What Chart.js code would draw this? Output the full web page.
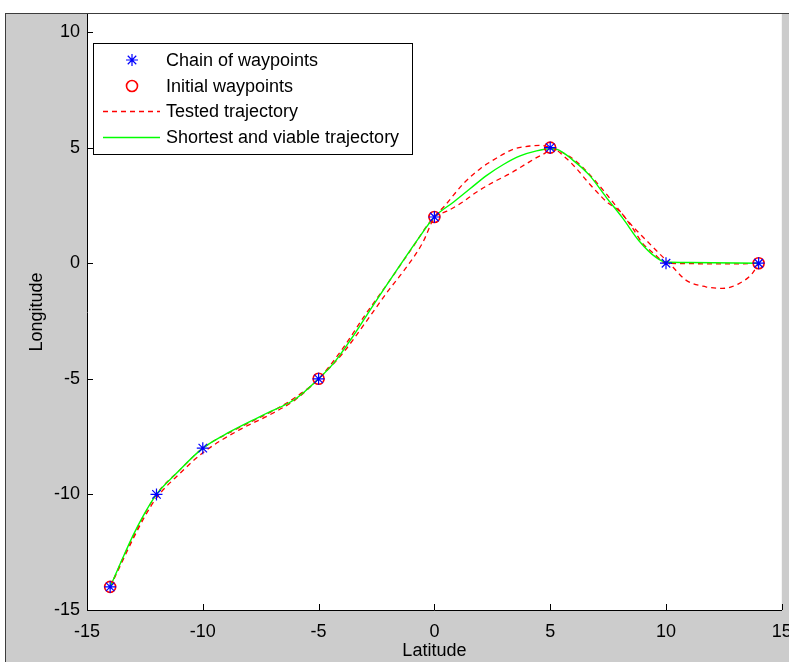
<!DOCTYPE html>
<html>
<head>
<meta charset="utf-8">
<script src="https://cdn.jsdelivr.net/npm/chart.js@4.4.1/dist/chart.umd.min.js"></script>
<style>
  body { margin: 0; background: #ffffff; width: 789px; height: 662px; overflow: hidden; }
  #frame { position: absolute; left: 5px; top: 13px; width: 784px; height: 649px; background: #cccccc;
           border-left: 1px solid #3c3c3c; border-top: 1px solid #3c3c3c; box-sizing: border-box; }
  #chart { position: absolute; left: 0; top: 0; }
</style>
</head>
<body>
<div id="frame"></div>
<canvas id="chart" width="789" height="662"></canvas>
<script>
// DATA
const chainX = [-14, -12, -10, -5, 0, 5, 10, 14]
const chainY = [-14, -10, -8, -5, 2, 5, 0, 0]

const initialX = [-14, -5, 0, 5, 14]
const initialY = [-14, -5, 2, 5, 0]

// tested trajectory through the initial waypoints
const testedAX = [-14, -13.5, -13, -12.5, -12, -11, -10, -8.5, -7, -6, -5, -4, -3, -2, -1.3, -0.5, 0, 0.4, 1.26, 1.98, 2.69, 3.41, 4.13, 4.6, 5, 5.5, 6, 6.5, 7, 7.42, 7.7, 8.42, 9.14, 9.71, 10.14, 10.86, 11.72, 12.43, 13.15, 13.72, 14]
const testedAY = [-14, -12.95, -11.9, -10.95, -10.15, -9.1, -8.2, -7.25, -6.5, -5.9, -5, -3.95, -2.6, -1.2, -0.3, 0.9, 2, 2.43, 3.45, 4.09, 4.55, 4.93, 5.07, 5.1, 5, 4.8, 4.5, 4.05, 3.5, 3.0, 2.65, 1.75, 1.0, 0.42, 0, -0.73, -1.02, -1.09, -0.88, -0.45, 0]

// tested trajectory through the chain of waypoints
const testedBX = [-14, -13, -12, -11, -10, -8.5, -7, -6, -5, -4, -3, -2, -1, 0, 0.54, 1.12, 1.83, 2.55, 3.27, 3.98, 4.41, 4.84, 5, 5.7, 6.13, 6.56, 7, 7.5, 8, 8.5, 9, 9.5, 10, 11, 12, 13, 14]
const testedBY = [-14, -11.8, -10, -8.95, -8, -7.15, -6.4, -5.8, -5, -3.75, -2.25, -0.85, 0.6, 2, 2.25, 2.58, 3.08, 3.51, 3.88, 4.31, 4.57, 4.81, 5, 4.53, 4.1, 3.59, 3.1, 2.6, 2.25, 1.6, 0.85, 0.4, 0, -0.02, -0.03, -0.03, 0]

const shortestX = [-14, -13.5, -13, -12.5, -12, -11.15, -10, -8.84, -7.4, -5.97, -5, -4.33, -3.61, -2.89, -2.18, -1.46, -0.74, 0, 0.83, 1.55, 2.26, 2.98, 3.7, 4.41, 5, 5.27, 5.99, 6.7, 7.42, 8.13, 8.85, 9.57, 10, 11, 14]
const shortestY = [-14, -12.85, -11.75, -10.8, -10, -9.1, -8, -7.3, -6.57, -5.85, -5, -4.3, -3.3, -2.2, -1.12, -0.05, 1.0, 2, 2.65, 3.23, 3.8, 4.27, 4.64, 4.86, 4.95, 4.93, 4.45, 3.8, 2.85, 1.95, 0.95, 0.25, 0.05, 0.03, 0]

const xTicks = [-15, -10, -5, 0, 5, 10, 15]
const yTicks = [-15, -10, -5, 0, 5, 10]

const legendLabels = ['Chain of waypoints', 'Initial waypoints', 'Tested trajectory', 'Shortest and viable trajectory']

function toPoints (xs, ys) {
    return xs.map((x, i) => ({x: x, y: ys[i]}))
}

const FONT = "'Liberation Sans', Arial, sans-serif"

// PLUGINS

// white plot box + inner tick marks like matlab
const plotBox = {
    id: 'plotBox',
    beforeDraw (chart) {
        const {ctx, chartArea} = chart
        ctx.save()
        ctx.fillStyle = '#ffffff'
        ctx.fillRect(chartArea.left, chartArea.top, chartArea.right - chartArea.left, chartArea.bottom - chartArea.top)
        ctx.restore()
    },
    afterDraw (chart) {
        const {ctx, chartArea, scales} = chart
        ctx.save()
        ctx.strokeStyle = '#000000'
        ctx.lineWidth = 1
        ctx.beginPath()
        scales.x.ticks.forEach(t => {
            const px = Math.round(scales.x.getPixelForValue(t.value)) + 0.5
            ctx.moveTo(px, chartArea.bottom)
            ctx.lineTo(px, chartArea.bottom - 6)
        })
        scales.y.ticks.forEach(t => {
            const py = Math.round(scales.y.getPixelForValue(t.value)) + 0.5
            ctx.moveTo(chartArea.left, py)
            ctx.lineTo(chartArea.left + 6, py)
        })
        ctx.stroke()
        ctx.restore()
    }
}

function drawStar (ctx, x, y, r) {
    const d = r * Math.SQRT1_2
    ctx.beginPath()
    ctx.moveTo(x - r, y); ctx.lineTo(x + r, y)
    ctx.moveTo(x, y - r); ctx.lineTo(x, y + r)
    ctx.moveTo(x - d, y - d); ctx.lineTo(x + d, y + d)
    ctx.moveTo(x - d, y + d); ctx.lineTo(x + d, y - d)
    ctx.stroke()
}

// legend box in the upper left corner
const boxLegend = {
    id: 'boxLegend',
    afterDraw (chart) {
        const ctx = chart.ctx
        const left = 93, top = 43, w = 319, h = 111
        ctx.save()
        ctx.fillStyle = '#ffffff'
        ctx.fillRect(left, top, w, h)
        ctx.strokeStyle = '#000000'
        ctx.lineWidth = 1
        ctx.strokeRect(left + 0.5, top + 0.5, w, h)

        const rows = [60, 86, 111, 137]
        const mx = 132

        ctx.strokeStyle = '#0000ff'
        ctx.lineWidth = 1.2
        drawStar(ctx, mx, rows[0], 6)

        ctx.strokeStyle = '#ff0000'
        ctx.lineWidth = 1.6
        ctx.beginPath()
        ctx.arc(mx, rows[1], 5.5, 0, Math.PI * 2)
        ctx.stroke()

        ctx.strokeStyle = '#ff0000'
        ctx.lineWidth = 1.3
        ctx.setLineDash([5, 4])
        ctx.beginPath()
        ctx.moveTo(103, rows[2] + 0.5)
        ctx.lineTo(160, rows[2] + 0.5)
        ctx.stroke()
        ctx.setLineDash([])

        ctx.strokeStyle = '#00ff00'
        ctx.lineWidth = 1.4
        ctx.beginPath()
        ctx.moveTo(103, rows[3] + 0.5)
        ctx.lineTo(160, rows[3] + 0.5)
        ctx.stroke()

        ctx.fillStyle = '#000000'
        ctx.font = '18px ' + FONT
        ctx.textBaseline = 'middle'
        legendLabels.forEach((txt, i) => ctx.fillText(txt, 166, rows[i] + 1))
        ctx.restore()
    }
}

// CHART

const dataTrajectory = {
    datasets: [
      {
        label: legendLabels[0],
        data: toPoints(chainX, chainY),
        showLine: false,
        pointStyle: 'star',
        pointRadius: 6,
        pointBorderWidth: 1.2,
        pointBorderColor: '#0000ff',
        pointBackgroundColor: '#0000ff',
        order: 0
      },
      {
        label: legendLabels[1],
        data: toPoints(initialX, initialY),
        showLine: false,
        pointStyle: 'circle',
        pointRadius: 5.5,
        pointBorderWidth: 1.6,
        pointBorderColor: '#ff0000',
        pointBackgroundColor: 'rgba(0,0,0,0)',
        order: 1
      },
      {
        label: legendLabels[3],
        data: toPoints(shortestX, shortestY),
        showLine: true,
        borderColor: '#00ff00',
        borderWidth: 1.4,
        pointRadius: 0,
        cubicInterpolationMode: 'monotone',
        order: 2
      },
      {
        label: legendLabels[2],
        data: toPoints(testedAX, testedAY),
        showLine: true,
        borderColor: '#ff0000',
        borderWidth: 1.3,
        borderDash: [5, 4],
        pointRadius: 0,
        cubicInterpolationMode: 'monotone',
        order: 3
      },
      {
        label: legendLabels[2],
        data: toPoints(testedBX, testedBY),
        showLine: true,
        borderColor: '#ff0000',
        borderWidth: 1.3,
        borderDash: [5, 4],
        pointRadius: 0,
        cubicInterpolationMode: 'monotone',
        order: 4
      }
    ]
}

function noPadding (s) {
    s.paddingLeft = 0
    s.paddingRight = 0
    s.paddingTop = 0
    s.paddingBottom = 0
}

const configTrajectory = {
    type: 'scatter',
    data: dataTrajectory,
    options: {
        responsive: false,
        animation: false,
        layout: {
            padding: {left: 0, top: 14, right: 4, bottom: 0}
        },
        scales: {
            x: {
                type: 'linear',
                min: -15,
                max: 15,
                afterBuildTicks: s => { s.ticks = xTicks.map(v => ({value: v})) },
                afterFit: s => { s.height = 52; noPadding(s) },
                grid: {display: false, drawTicks: false},
                border: {display: true, color: '#000000', width: 1},
                ticks: {color: '#000000', padding: 11, maxRotation: 0, font: {family: FONT, size: 18}},
                title: {display: true, text: 'Latitude', color: '#000000', padding: {top: 0, bottom: 0}, font: {family: FONT, size: 18}}
            },
            y: {
                type: 'linear',
                min: -15,
                max: 10.78,
                afterBuildTicks: s => { s.ticks = yTicks.map(v => ({value: v})) },
                afterFit: s => { s.width = 87; noPadding(s) },
                grid: {display: false, drawTicks: false},
                border: {display: true, color: '#000000', width: 1},
                ticks: {color: '#000000', padding: 7, font: {family: FONT, size: 18}},
                title: {display: true, text: 'Longitude', color: '#000000', padding: {top: 26, bottom: 0}, font: {family: FONT, size: 18}}
            }
        },
        plugins: {
            legend: {display: false},
            tooltip: {enabled: false}
        }
    },
    plugins: [plotBox, boxLegend]
}

const trajectoryChart = new Chart(
    document.getElementById('chart'),
    configTrajectory
)
</script>
</body>
</html>
